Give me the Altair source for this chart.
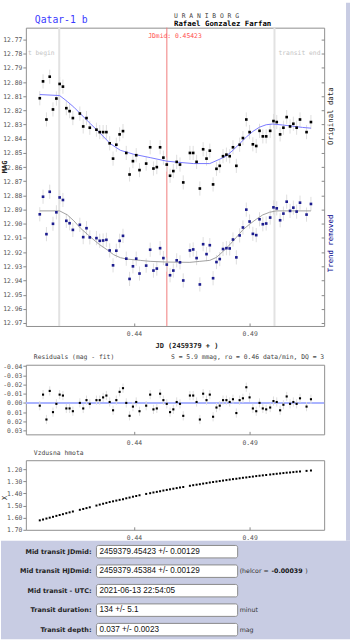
import altair as alt
import pandas as pd

# ---------------- data ----------------
jd = [0.39929, 0.40070, 0.40217, 0.40359, 0.40500, 0.40647, 0.40788, 0.40930, 0.41077, 0.41218,
      0.41360, 0.41661, 0.41807, 0.41949, 0.42091, 0.42379, 0.42521, 0.42667, 0.42809, 0.42951,
      0.43097, 0.43239, 0.43381, 0.43527, 0.43669, 0.43811, 0.43957, 0.44099, 0.44241, 0.44529,
      0.44701, 0.44843, 0.44989, 0.45131, 0.45273, 0.45419, 0.45561, 0.45703, 0.45849, 0.45991,
      0.46132, 0.46420, 0.46562, 0.46709, 0.46850, 0.46992, 0.47138, 0.47280, 0.47422, 0.47568,
      0.47710, 0.47852, 0.47998, 0.48140, 0.48282, 0.48428, 0.48570, 0.48712, 0.48858, 0.49000,
      0.49142, 0.49288, 0.49430, 0.49572, 0.49718, 0.49890, 0.50032, 0.50174, 0.50320, 0.50462,
      0.50604, 0.50750, 0.50892, 0.51034, 0.51180, 0.51463, 0.51653]

mag_orig = [12.8114, 12.7995, 12.8264, 12.7962, 12.8193, 12.8116, 12.8013, 12.8032, 12.8184, 12.8205,
            12.8254, 12.8222, 12.8313, 12.8254, 12.8322, 12.8336, 12.8353, 12.8353, 12.8353, 12.8432,
            12.8540, 12.8442, 12.8369, 12.8346, 12.8500, 12.8652, 12.8558, 12.8516, 12.8621, 12.8575,
            12.8460, 12.8610, 12.8600, 12.8460, 12.8533, 12.8582, 12.8661, 12.8628, 12.8563, 12.8582,
            12.8708, 12.8500, 12.8500, 12.8563, 12.8751, 12.8474, 12.8540, 12.8484, 12.8722, 12.8612,
            12.8591, 12.8523, 12.8512, 12.8523, 12.8460, 12.8591, 12.8442, 12.8395, 12.8264, 12.8353,
            12.8439, 12.8451, 12.8344, 12.8383, 12.8383, 12.8344, 12.8275, 12.8282, 12.8369, 12.8322,
            12.8247, 12.8313, 12.8294, 12.8322, 12.8264, 12.8353, 12.8282]

mag_detr = [12.8933, 12.8809, 12.9073, 12.8774, 12.9000, 12.8919, 12.8814, 12.8832, 12.8979, 12.8996,
            12.9043, 12.9007, 12.9094, 12.9031, 12.9096, 12.9101, 12.9120, 12.9118, 12.9113, 12.9188,
            12.9293, 12.9190, 12.9120, 12.9085, 12.9246, 12.9389, 12.9300, 12.9246, 12.9351, 12.9295,
            12.9183, 12.9330, 12.9316, 12.9172, 12.9242, 12.9288, 12.9363, 12.9330, 12.9258, 12.9272,
            12.9400, 12.9188, 12.9181, 12.9242, 12.9428, 12.9144, 12.9214, 12.9151, 12.9384, 12.9270,
            12.9249, 12.9178, 12.9172, 12.9174, 12.9111, 12.9237, 12.9082, 12.9026, 12.8900, 12.8984,
            12.9071, 12.9080, 12.8968, 12.9003, 12.8998, 12.8956, 12.8884, 12.8891, 12.8975, 12.8928,
            12.8844, 12.8909, 12.8886, 12.8914, 12.8851, 12.8935, 12.8860]

resid = [0.003, -0.009, 0.018, -0.013, 0.010, 0.001, -0.009, -0.008, 0.006, 0.006,
         0.009, 0.000, 0.006, -0.003, 0.001, -0.003, -0.003, -0.006, -0.008, -0.001,
         0.008, -0.003, -0.012, -0.016, 0.000, 0.014, 0.004, -0.001, 0.009, 0.003,
         -0.009, 0.007, 0.006, -0.010, -0.003, 0.001, 0.010, 0.007, -0.001, 0.001,
         0.014, -0.008, -0.008, -0.001, 0.018, -0.010, -0.003, -0.009, 0.015, 0.005,
         0.003, -0.003, -0.003, -0.001, -0.004, 0.011, -0.003, -0.005, -0.017, -0.006,
         0.006, 0.009, 0.000, 0.006, 0.007, 0.005, -0.002, -0.001, 0.008, 0.002,
         -0.007, 0.001, -0.001, 0.001, -0.005, 0.004, -0.004]

airmass = [1.622, 1.615, 1.607, 1.600, 1.593, 1.585, 1.578, 1.571, 1.563, 1.556,
           1.549, 1.535, 1.528, 1.521, 1.514, 1.500, 1.492, 1.485, 1.478, 1.471,
           1.465, 1.459, 1.453, 1.447, 1.440, 1.434, 1.427, 1.421, 1.415, 1.404,
           1.398, 1.392, 1.387, 1.382, 1.376, 1.371, 1.366, 1.361, 1.356, 1.351,
           1.347, 1.337, 1.332, 1.328, 1.324, 1.319, 1.315, 1.310, 1.306, 1.302,
           1.298, 1.294, 1.290, 1.286, 1.282, 1.279, 1.275, 1.271, 1.268, 1.264,
           1.261, 1.257, 1.254, 1.251, 1.248, 1.244, 1.241, 1.238, 1.235, 1.232,
           1.229, 1.227, 1.224, 1.221, 1.219, 1.214, 1.211]

ERR = 0.005

fit_orig_jd = [0.39929, 0.40788, 0.41120, 0.41403, 0.41691, 0.42121, 0.42521, 0.42981, 0.43411, 0.43983,
               0.44701, 0.45419, 0.45849, 0.46562, 0.47280, 0.47710, 0.47998, 0.48282, 0.48570, 0.48858,
               0.49142, 0.49430, 0.49718, 0.50002, 0.50432, 0.50862, 0.51291, 0.51653]
fit_orig_mag = [12.8088, 12.8095, 12.8137, 12.8177, 12.8224, 12.8294, 12.8358, 12.8435, 12.8481, 12.8509,
                12.8533, 12.8558, 12.8565, 12.8575, 12.8575, 12.8544, 12.8521, 12.8481, 12.8435, 12.8388,
                12.8348, 12.8318, 12.8301, 12.8296, 12.8303, 12.8311, 12.8320, 12.8325]

fit_detr_jd = [0.39929, 0.40788, 0.41120, 0.41403, 0.41691, 0.41979, 0.42263, 0.42521, 0.42839, 0.43123,
               0.43411, 0.43699, 0.44271, 0.44701, 0.45419, 0.46420, 0.46850, 0.47280, 0.47568, 0.47852,
               0.48140, 0.48428, 0.48712, 0.49000, 0.49288, 0.49572, 0.49860, 0.50148, 0.51653]
fit_detr_mag = [12.8909, 12.8909, 12.8937, 12.8979, 12.9031, 12.9073, 12.9113, 12.9148, 12.9183, 12.9218,
                12.9239, 12.9249, 12.9258, 12.9265, 12.9270, 12.9272, 12.9265, 12.9258, 12.9237, 12.9195,
                12.9148, 12.9096, 12.9042, 12.9003, 12.8968, 12.8937, 12.8919, 12.8909, 12.8909]

JD_MID = 0.45423
JD_BEGIN = 0.40770
JD_END = 0.50076

jd_ticks = [0.44, 0.49]
mag_ticks = [12.77, 12.78, 12.79, 12.80, 12.81, 12.82, 12.83, 12.84, 12.85, 12.86, 12.87,
             12.88, 12.89, 12.90, 12.91, 12.92, 12.93, 12.94, 12.95, 12.96, 12.97]
res_ticks = [-0.04, -0.03, -0.02, -0.01, 0.00, 0.01, 0.02, 0.03]
air_ticks = [1.20, 1.30, 1.40, 1.50, 1.60, 1.70]

form_labels = ["Mid transit JDmid:", "Mid transit HJDmid:", "Mid transit - UTC:",
               "Transit duration:", "Transit depth:"]
form_values = ["2459379.45423 +/- 0.00129", "2459379.45384 +/- 0.00129", "2021-06-13 22:54:05",
               "134 +/- 5.1", "0.037 +/- 0.0023"]
form_units = ["", "(helcor = ", "", "minut", "mag"]
HELCOR = "-0.00039"

# ---------------- styling ----------------
MONO = "DejaVu Sans Mono"
LAV = "#c8cce3"
W = 300

obs = pd.DataFrame({"jd": jd, "orig": mag_orig, "detr": mag_detr, "res": resid, "air": airmass})

xs = alt.Scale(domain=[0.39327, 0.52224], nice=False, zero=False)
x_axis = alt.Axis(values=jd_ticks, format=".2f", tickSize=3, offset=-3,
                  labelPadding=5, domain=False, grid=False)


def X(field):
    return alt.X(field, type="quantitative", scale=xs, title=None, axis=x_axis)


def txt(text, x, y, color="#444", size=6.4, align="left", angle=0, weight="normal",
        font=MONO):
    return alt.Chart(pd.DataFrame({"t": [text]})).mark_text(
        x=x, y=y, align=align, baseline="middle", angle=angle, font=font,
        fontSize=size, color=color, fontWeight=weight).encode(text="t:N")


# ---------------- main panel ----------------
mag_s = alt.Scale(domain=[12.7616, 12.9721], reverse=True, nice=False, zero=False)
left_axis = alt.Axis(values=mag_ticks, format=".2f", tickSize=3, labelPadding=1,
                     domain=False, grid=False, orient="left")
right_axis = alt.Axis(values=mag_ticks, tickSize=3, offset=-3, labels=False,
                      domain=False, grid=False, orient="right")


def YM(field, axis=None):
    if axis is None:
        return alt.Y(field, type="quantitative", scale=mag_s, title=None, axis=None)
    return alt.Y(field, type="quantitative", scale=mag_s, title=None, axis=axis)


tr_lines = alt.Chart(pd.DataFrame({"jd": [JD_BEGIN, JD_END]})).mark_rule(
    color="#e2e2e2", strokeWidth=2).encode(x=X("jd"))
mid_line = alt.Chart(pd.DataFrame({"jd": [JD_MID]})).mark_rule(
    color="#f07c7c", strokeWidth=1).encode(x=X("jd"))
err_o = alt.Chart(obs).transform_calculate(
    lo=f"datum.orig - {ERR}", hi=f"datum.orig + {ERR}").mark_rule(
    color="#dedede", strokeWidth=1).encode(x=X("jd"), y=YM("lo"), y2="hi:Q")
err_d = alt.Chart(obs).transform_calculate(
    lo=f"datum.detr - {ERR}", hi=f"datum.detr + {ERR}").mark_rule(
    color="#dedede", strokeWidth=1).encode(x=X("jd"), y=YM("lo"), y2="hi:Q")
fit_o = alt.Chart(pd.DataFrame({"jd": fit_orig_jd, "m": fit_orig_mag})).mark_line(
    color="#7a7aff", strokeWidth=1).encode(x=X("jd"), y=YM("m", right_axis))
fit_d = alt.Chart(pd.DataFrame({"jd": fit_detr_jd, "m": fit_detr_mag})).mark_line(
    color="#a0a0a0", strokeWidth=1).encode(x=X("jd"), y=YM("m"))
pts_o = alt.Chart(obs).mark_square(size=7, color="#000000", opacity=1).encode(
    x=X("jd"), y=YM("orig", left_axis))
pts_d = alt.Chart(obs).mark_square(size=7, color="#1c1c8e", opacity=1).encode(
    x=X("jd"), y=YM("detr"))

main = alt.layer(
    tr_lines, mid_line, err_o, err_d, fit_o, fit_d, pts_o, pts_d,
    txt("Qatar-1 b", 9, -8, color="#3a3aff", size=9.8),
    txt("U R A N I B O R G", 149, -12, color="#444444", size=6.4),
    txt("Rafael Gonzalez Farfan", 149, -4, color="#000000", size=7.4, weight="bold"),
    txt("JDmid: 0.45423", 123, 8, color="#ff5050", size=6.4),
    txt("t begin", 29, 25.5, color="#c4c4c4", align="right"),
    txt("transit end", 254, 25.5, color="#c4c4c4"),
    txt("Original data", 307, 89, color="#222222", size=7.4, align="center", angle=270),
    txt("Trend removed", 307, 217, color="#00008b", size=7.4, align="center", angle=270),
    txt("JD (2459379 + )", 162, 320, color="#222222", size=7, align="center", weight="bold"),
    txt("MAG", -21, 140, color="#222222", size=7, align="center", angle=270, weight="bold"),
).resolve_axis(y="independent").properties(width=W, height=300)

# ---------------- residual panel ----------------
res_s = alt.Scale(domain=[-0.0414, 0.0341], reverse=True, nice=False, zero=False)
res_axis = alt.Axis(values=res_ticks, labelExpr="replace(format(datum.value, '.2f'), '\u2212', '-')",
                    tickSize=3, labelPadding=1, domain=False, grid=False)


def YR(field):
    return alt.Y(field, type="quantitative", scale=res_s, title=None, axis=res_axis)


zero = alt.Chart(pd.DataFrame({"v": [0.0]})).mark_rule(color="#aab4ff", strokeWidth=2).encode(
    y=YR("v"))
err_r = alt.Chart(obs).transform_calculate(
    lo=f"datum.res - {ERR}", hi=f"datum.res + {ERR}").mark_rule(
    color="#dedede", strokeWidth=1).encode(x=X("jd"), y=YR("lo"), y2="hi:Q")
pts_r = alt.Chart(obs).mark_square(size=4.5, color="#000000", opacity=1).encode(
    x=X("jd"), y=YR("res"))
resid_chart = alt.layer(
    zero, err_r, pts_r,
    txt("Residuals (mag - fit)", 8, -8),
    txt("S = 5.9 mmag, ro = 0.46 data/min, DQ = 3", 300, -8, align="right"),
).properties(width=W, height=70)

# ---------------- airmass panel ----------------
air_s = alt.Scale(domain=[1.126, 1.70], reverse=True, nice=False, zero=False)
air_axis = alt.Axis(values=air_ticks, format=".2f", tickSize=3, labelPadding=1,
                    domain=False, grid=False)
pts_a = alt.Chart(obs).mark_square(size=4, color="#000000", opacity=1).encode(
    x=X("jd"), y=alt.Y("air", type="quantitative", scale=air_s, title=None, axis=air_axis))
air_chart = alt.layer(
    pts_a,
    txt("Vzdusna hmota", 8, -7),
    txt("X", -21, 38, color="#222222", size=7, align="center", angle=270),
).properties(width=W, height=70)

# ---------------- form panel ----------------
form = pd.DataFrame({"row": [0, 1, 2, 3, 4], "label": form_labels,
                     "value": form_values, "unit": form_units})
form_s = alt.Scale(domain=[-0.561, 4.49], reverse=True, nice=False, zero=False)


def YF(field):
    return alt.Y(field, type="quantitative", scale=form_s, title=None, axis=None)


one = pd.DataFrame({"k": [0]})
bg = alt.Chart(one).mark_rect(color=LAV).encode(
    x=alt.value(-25), x2=alt.value(326), y=alt.value(0), y2=alt.value(99))
strip = alt.Chart(one).mark_rect(color=LAV).encode(
    x=alt.value(322), x2=alt.value(326), y=alt.value(-541), y2=alt.value(0))
boxes = alt.Chart(form).transform_calculate(
    top="datum.row - 0.32", bot="datum.row + 0.32").mark_rect(
    fill="#ffffff", stroke="#8a8a8a", strokeWidth=1, cornerRadius=2).encode(
    x=alt.value(71), x2=alt.value(213), y=YF("top"), y2="bot:Q")
labs = alt.Chart(form).mark_text(align="right", baseline="middle", x=66, font="DejaVu Sans",
                                 fontWeight="bold", fontSize=6.5, color="#222222").encode(
    y=YF("row"), text="label:N")
vals = alt.Chart(form).mark_text(align="left", baseline="middle", x=74, font="Liberation Sans",
                                 fontSize=8.2, color="#111111").encode(
    y=YF("row"), text="value:N")
units = alt.Chart(form).mark_text(align="left", baseline="middle", x=215, font="DejaVu Sans",
                                  fontSize=6.3, color="#333333").encode(
    y=YF("row"), text="unit:N")
helc = alt.Chart(pd.DataFrame({"row": [1], "t": [HELCOR]})).mark_text(
    align="left", baseline="middle", x=247, font="DejaVu Sans", fontWeight="bold",
    fontSize=6.3, color="#111111").encode(y=YF("row"), text="t:N")
helc2 = alt.Chart(pd.DataFrame({"row": [1], "t": [")"]})).mark_text(
    align="left", baseline="middle", x=281, font="DejaVu Sans",
    fontSize=6.3, color="#333333").encode(y=YF("row"), text="t:N")

form_chart = alt.layer(bg, strip, boxes, labs, vals, units, helc, helc2).properties(
    width=W, height=99, view=alt.ViewBackground(stroke="transparent"))

# ---------------- assemble ----------------
inner2 = alt.vconcat(air_chart, form_chart, spacing=11, bounds="flush")
inner1 = alt.vconcat(resid_chart, inner2, spacing=26, bounds="flush")
chart = alt.vconcat(main, inner1, spacing=39, bounds="flush").properties(
    padding=0, background="#ffffff"
).configure_view(stroke="#8f8f8f", strokeWidth=1).configure_axis(
    labelFont=MONO, labelFontSize=6.4, labelColor="#555555", tickColor="#888888",
    tickWidth=1, grid=False
)

chart.save("out.html", embed_options={"renderer": "svg", "actions": False})
